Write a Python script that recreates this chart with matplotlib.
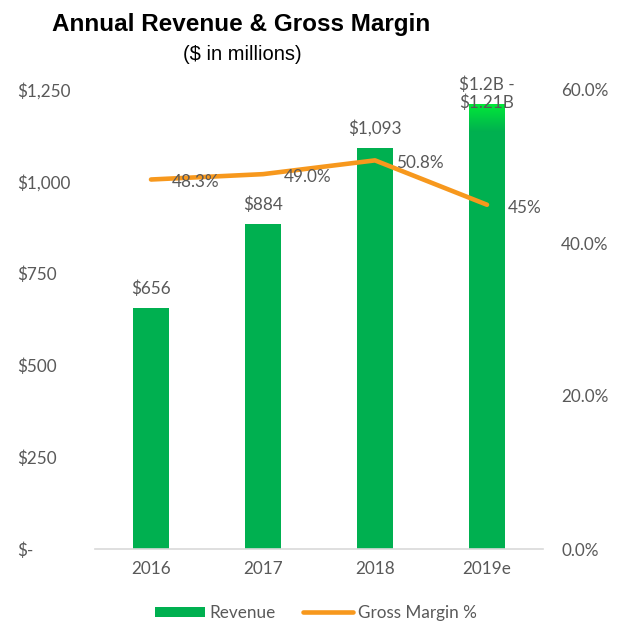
import matplotlib
matplotlib.use("Agg")
import matplotlib.pyplot as plt
import numpy as np
from matplotlib.colors import LinearSegmentedColormap
from matplotlib.patches import Patch
from matplotlib.lines import Line2D
from matplotlib.ticker import FixedLocator

# ---- data ----
years = ["2016", "2017", "2018", "2019e"]
revenue = [656, 884, 1093, 1210]
revenue_labels = ["$656", "$884", "$1,093", "$1.2B -\n$1.21B"]
margin = [48.3, 49.0, 50.8, 45.0]
margin_labels = ["48.3%", "49.0%", "50.8%", "45%"]
left_ticks = [0, 250, 500, 750, 1000, 1250]
left_tick_labels = ["$-", "$250", "$500", "$750", "$1,000", "$1,250"]
right_ticks = [0, 20, 40, 60]
right_tick_labels = ["0.0%", "20.0%", "40.0%", "60.0%"]

GREEN = "#00B050"
BRIGHT = "#00E838"
ORANGE = "#F7981D"
GRAY = "#595959"
FONT = ["Lato", "DejaVu Sans"]
FS = 12.3

plt.rcParams["font.family"] = FONT

fig = plt.figure(figsize=(6.30, 6.38), dpi=100)
W, H = 630, 638
ax = fig.add_axes([95 / W, 1 - 549 / H, 448 / W, 459 / H])
ax2 = ax.twinx()

x = np.arange(len(years))
bw = 0.32
ax.bar(x, revenue, width=bw, color=GREEN, zorder=2)

# gradient on top of the estimate bar
cmap = LinearSegmentedColormap.from_list("g", [GREEN, BRIGHT])
grad = np.linspace(0, 1, 100).reshape(-1, 1)
i = 3
ax.imshow(grad, cmap=cmap, aspect="auto", origin="lower",
          extent=[x[i] - bw / 2, x[i] + bw / 2, revenue[i] - 75, revenue[i]],
          zorder=3)

ax.set_xlim(-0.5, len(years) - 0.5)
ax.set_ylim(0, 1250)
ax2.set_ylim(0, 60)

for xi, v, lab in zip(x, revenue, revenue_labels):
    if "\n" in lab:
        ax.annotate(lab, (xi, v), xytext=(0, 8), textcoords="offset points",
                    ha="center", va="center", fontsize=FS, color=GRAY,
                    zorder=5, linespacing=1.1)
    else:
        ax.annotate(lab, (xi, v), xytext=(0, 14), textcoords="offset points",
                    ha="center", va="center", fontsize=FS, color=GRAY, zorder=5)

ax2.plot(x, margin, color=ORANGE, lw=3.3, solid_capstyle="round",
         solid_joinstyle="round", zorder=4)
for xi, v, lab in zip(x, margin, margin_labels):
    ax2.annotate(lab, (xi, v), xytext=(15, -2), textcoords="offset points",
                 ha="left", va="center", fontsize=FS, color=GRAY, zorder=5)

# axes styling
for a in (ax, ax2):
    for s in a.spines.values():
        s.set_visible(False)
ax.spines["bottom"].set_visible(True)
ax.spines["bottom"].set_color("#D9D9D9")
ax.spines["bottom"].set_linewidth(1.2)

ax.set_xticks(x)
ax.set_xticklabels(years, fontsize=FS, color=GRAY)
ax.tick_params(axis="x", length=0, pad=9)

ax.yaxis.set_major_locator(FixedLocator(left_ticks))
ax.set_yticklabels(left_tick_labels, fontsize=FS, color=GRAY)
ax.tick_params(axis="y", length=0, pad=56)
for t in ax.get_yticklabels():
    t.set_horizontalalignment("left")

ax2.yaxis.set_major_locator(FixedLocator(right_ticks))
ax2.set_yticklabels(right_tick_labels, fontsize=FS, color=GRAY)
ax2.tick_params(axis="y", length=0, pad=13)

ax2.set_zorder(ax.get_zorder() + 1)
ax2.patch.set_visible(False)

# titles
fig.text(241 / W, 1 - 24 / H, "Annual Revenue & Gross Margin",
         family=["Liberation Sans", "DejaVu Sans"], weight="bold",
         fontsize=17.5, ha="center", va="center", color="black")
fig.text(242 / W, 1 - 54 / H, "($ in millions)",
         family=["Liberation Sans", "DejaVu Sans"],
         fontsize=14.5, ha="center", va="center", color="black")

handles = [Patch(facecolor=GREEN, edgecolor="none"),
           Line2D([0], [0], color=ORANGE, lw=3.3, solid_capstyle="round")]
fig.legend(handles, ["Revenue", "Gross Margin %"], loc="center",
           bbox_to_anchor=(316 / W, 1 - 613 / H), ncol=2, frameon=False,
           fontsize=FS, labelcolor=GRAY, handlelength=2.9, handleheight=0.6,
           handletextpad=0.3, columnspacing=1.6)

fig.savefig("out.png", dpi=100)
